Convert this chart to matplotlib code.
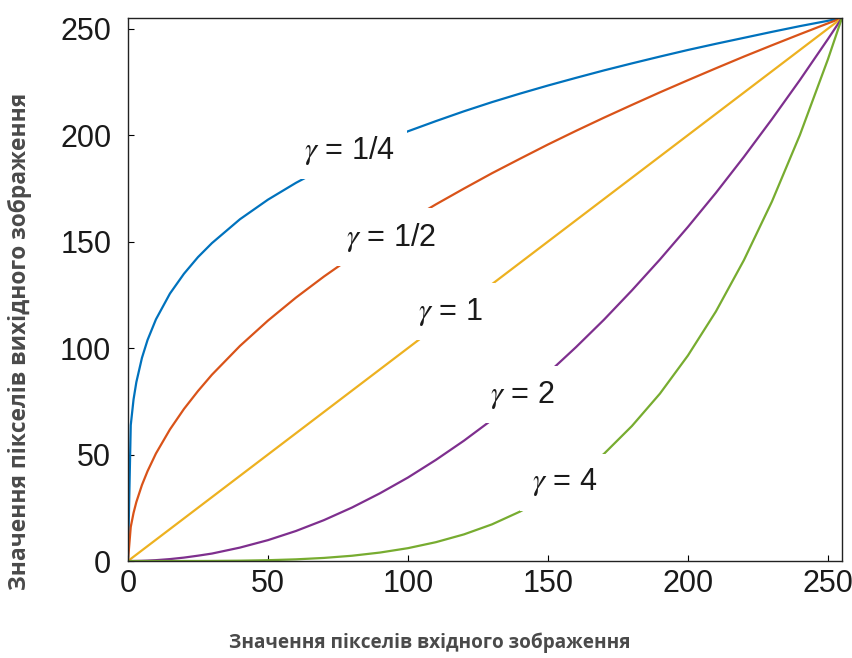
import numpy as np
import matplotlib
matplotlib.use("Agg")
import matplotlib.pyplot as plt

plt.rcParams['font.family'] = ['Liberation Sans', 'DejaVu Sans']
plt.rcParams['mathtext.fontset'] = 'stix'

# input pixel values (x) and output values
x_in = [0, 1, 2, 3, 5, 7, 10, 15, 20, 25, 30, 40, 50, 60, 70, 80, 90, 100,
        110, 120, 130, 140, 150, 160, 170, 180, 190, 200, 210, 220, 230, 240,
        250, 255]
y_g025 = [0, 63.8, 75.9, 84.0, 95.4, 103.8, 113.5, 125.6, 134.9, 142.7, 149.3,
          160.5, 169.7, 177.6, 184.6, 190.8, 196.5, 201.8, 206.6, 211.2, 215.5,
          219.5, 223.3, 226.9, 230.4, 233.7, 236.9, 240.0, 242.9, 245.7, 248.5,
          251.2, 253.7, 255]
y_g05 = [0, 16.0, 22.6, 27.7, 35.7, 42.2, 50.5, 61.8, 71.4, 79.8, 87.5, 101.0,
         112.9, 123.7, 133.6, 142.8, 151.5, 159.7, 167.5, 174.9, 182.1, 188.9,
         195.6, 202.0, 208.2, 214.2, 220.1, 225.8, 231.4, 236.9, 242.2, 247.4,
         252.5, 255]
y_g1 = [0, 1, 2, 3, 5, 7, 10, 15, 20, 25, 30, 40, 50, 60, 70, 80, 90, 100,
        110, 120, 130, 140, 150, 160, 170, 180, 190, 200, 210, 220, 230, 240,
        250, 255]
y_g2 = [0, 0, 0, 0.04, 0.1, 0.2, 0.4, 0.9, 1.6, 2.5, 3.5, 6.3, 9.8, 14.1, 19.2,
        25.1, 31.8, 39.2, 47.5, 56.5, 66.3, 76.9, 88.2, 100.4, 113.3, 127.1,
        141.6, 156.9, 172.9, 189.8, 207.5, 225.9, 245.1, 255]
y_g4 = [0, 0, 0, 0, 0, 0, 0, 0, 0.01, 0.02, 0.05, 0.16, 0.38, 0.78, 1.45, 2.47,
        3.97, 6.03, 8.85, 12.5, 17.2, 23.2, 30.5, 39.5, 50.3, 63.4, 78.6, 96.5,
        117.2, 141.3, 168.8, 200.1, 235.6, 255]

series = [y_g025, y_g05, y_g1, y_g2, y_g4]
colors = ['#0072BD', '#D95319', '#EDB120', '#7E2F8E', '#77AC30']
labels = ['1/4', '1/2', '1', '2', '4']
label_x = [79, 94, 115, 141, 156]
label_y = [193, 152, 117, 78, 37]

fig = plt.figure(figsize=(8.53, 6.58), dpi=100)
ax = fig.add_axes([0.150, 0.1474, 0.837, 0.8252])

for ys, c in zip(series, colors):
    ax.plot(x_in, ys, color=c, linewidth=1.6)

for lab, lx, ly in zip(labels, label_x, label_y):
    ax.text(lx, ly, r'$\gamma$ = ' + lab, fontsize=22, ha='center', va='center',
            color='#1a1a1a',
            bbox=dict(facecolor='white', edgecolor='none', pad=9))

ax.set_xlim(0, 255)
ax.set_ylim(0, 255)
ax.set_xticks([0, 50, 100, 150, 200, 250])
ax.set_yticks([0, 50, 100, 150, 200, 250])
ax.tick_params(direction='in', length=4, width=0.8, labelsize=22,
               labelcolor='#1a1a1a')
ax.tick_params(axis='x', pad=6)
ax.tick_params(axis='y', pad=12)
for s in ax.spines.values():
    s.set_linewidth(1.0)
    s.set_color('#222222')

fig.text(430 / 853, 1 - 643 / 658, 'Значення пікселів вхідного зображення',
         fontsize=13.7, fontweight='bold', family='Open Sans', color='#4a4a4a',
         ha='center', va='center')
fig.text(20 / 853, 1 - 341 / 658, 'Значення пікселів вихідного зображення',
         fontsize=16.4, fontweight='bold', family='Open Sans', color='#4a4a4a',
         ha='center', va='center', rotation=90)

fig.savefig('out.png', dpi=100, facecolor='white')
